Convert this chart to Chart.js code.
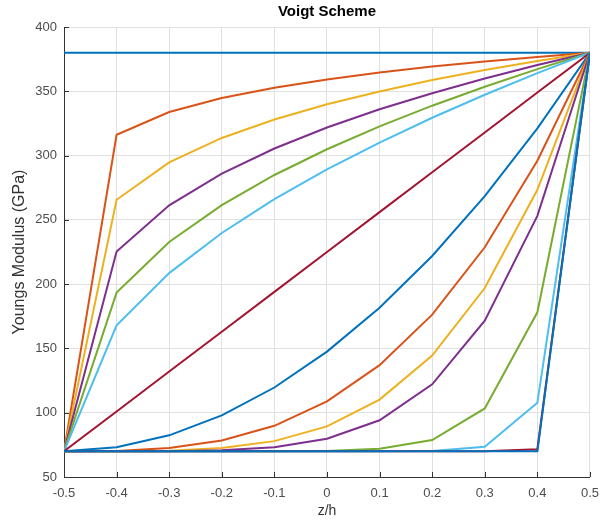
<!DOCTYPE html>
<html>
<head>
<meta charset="utf-8">
<script src="https://cdn.jsdelivr.net/npm/chart.js@4/dist/chart.umd.min.js"></script>
<style>
  body { margin: 0; background: #fff; }
  #wrap { width: 608px; height: 523px; }
</style>
</head>
<body>
<div id="wrap"><canvas id="voigtChart" width="608" height="523"></canvas></div>
<script>
// Voigt scheme, Youngs modulus through thickness, one line per exponent

const zh = [-0.5, -0.4, -0.3, -0.2, -0.1, 0, 0.1, 0.2, 0.3, 0.4, 0.5];

const eN0   = [380, 380, 380, 380, 380, 380, 380, 380, 380, 380, 380];
const eN01  = [70, 316.2, 333.9, 344.8, 352.8, 359.2, 364.6, 369.2, 373.1, 376.7, 380];
const eN02  = [70, 265.6, 294.7, 313.7, 328.1, 339.9, 349.9, 358.7, 366.5, 373.5, 380];
const eN03  = [70, 225.4, 261.3, 286.0, 305.5, 321.8, 336.0, 348.5, 359.9, 370.4, 380];
const eN04  = [70, 193.4, 232.8, 261.5, 284.9, 304.9, 322.7, 338.8, 353.5, 367.2, 380];
const eN05  = [70, 168.0, 208.6, 239.8, 266.1, 289.2, 310.1, 329.4, 347.3, 364.1, 380];
const eN1   = [70, 101, 132, 163, 194, 225, 256, 287, 318, 349, 380];
const eN2   = [70, 73.1, 82.4, 97.9, 119.6, 147.5, 181.6, 221.9, 268.4, 321.1, 380];
const eN3   = [70, 70.3, 72.5, 78.4, 89.8, 108.8, 137.0, 176.3, 228.7, 296.0, 380];
const eN4   = [70, 70.0, 70.5, 72.5, 77.9, 89.4, 110.2, 144.4, 197.0, 273.4, 380];
const eN5   = [70, 70.0, 70.1, 70.8, 73.2, 79.7, 94.1, 122.1, 171.6, 253.1, 380];
const eN10  = [70, 70, 70, 70, 70, 70.3, 71.9, 78.7, 103.3, 178.1, 380];
const eN20  = [70, 70, 70, 70, 70, 70, 70, 70.2, 73.6, 107.7, 380];
const eN50  = [70, 70, 70, 70, 70, 70, 70, 70, 70, 71.6, 380];
const eNinf = [70, 70, 70, 70, 70, 70, 70, 70, 70, 70, 380];

const series = [eN0, eN01, eN02, eN03, eN04, eN05, eN1, eN2, eN3, eN4, eN5, eN10, eN20, eN50, eNinf];

// matlab default colour order
const colors = ['#0072BD', '#D95319', '#EDB120', '#7E2F8E', '#77AC30', '#4DBEEE', '#A2142F'];

const yTicks = [50, 100, 150, 200, 250, 300, 350, 400];

const datasets = series.map((vals, i) => ({
    data: vals.map((v, j) => ({ x: zh[j], y: v })),
    borderColor: colors[i % colors.length],
    borderWidth: 2,
    pointRadius: 0,
    tension: 0,
    fill: false,
    order: series.length - i
}));

// small inward tick marks like matlab axes
const innerTicks = {
    id: 'innerTicks',
    afterDraw(chart) {
        const { ctx, chartArea, scales } = chart;
        ctx.save();
        ctx.strokeStyle = '#333';
        ctx.lineWidth = 1;
        ctx.beginPath();
        scales.x.ticks.forEach(t => {
            const px = Math.round(scales.x.getPixelForValue(t.value)) + 0.5;
            ctx.moveTo(px, chartArea.bottom);
            ctx.lineTo(px, chartArea.bottom - 5);
        });
        scales.y.ticks.forEach(t => {
            const py = Math.round(scales.y.getPixelForValue(t.value)) + 0.5;
            ctx.moveTo(chartArea.left, py);
            ctx.lineTo(chartArea.left + 5, py);
        });
        ctx.stroke();
        ctx.restore();
    }
};

// center the title over the plot box, not the whole canvas
const titleOverPlot = {
    id: 'titleOverPlot',
    afterLayout(chart) {
        const t = chart.titleBlock;
        if (!t) return;
        t.left = chart.chartArea.left;
        t.right = chart.chartArea.right;
        t.width = t.right - t.left;
    }
};

const font = { family: "'Liberation Sans', Arial, sans-serif", size: 13 };

new Chart(document.getElementById('voigtChart'), {
    type: 'line',
    data: { datasets: datasets },
    options: {
        responsive: false,
        animation: false,
        layout: { padding: { left: 0, right: 18, top: 0, bottom: 0 } },
        plugins: {
            legend: { display: false },
            tooltip: { enabled: false },
            title: {
                display: true,
                text: 'Voigt Scheme',
                color: '#000',
                font: { family: font.family, size: 15, weight: 'bold' },
                padding: { top: 3, bottom: 6 }
            }
        },
        scales: {
            x: {
                type: 'linear',
                min: -0.5,
                max: 0.5,
                afterBuildTicks: s => { s.ticks = zh.map(v => ({ value: v })); },
                afterFit: s => { s.height = 46; },
                ticks: {
                    color: '#4d4d4d',
                    font: font,
                    padding: 9,
                    maxRotation: 0,
                    callback: v => Math.abs(v) < 1e-9 ? '0' : v.toFixed(1)
                },
                grid: { color: '#e0e0e0', drawTicks: false },
                border: { color: '#333', width: 1 },
                title: { display: true, text: 'z/h', color: '#333', font: { family: font.family, size: 14 }, padding: { top: 2, bottom: 3 } }
            },
            y: {
                min: 50,
                max: 400,
                afterBuildTicks: s => { s.ticks = yTicks.map(v => ({ value: v })); },
                afterFit: s => { s.width = 64; },
                ticks: { color: '#4d4d4d', font: font, padding: 7 },
                grid: { color: '#e0e0e0', drawTicks: false },
                border: { color: '#333', width: 1 },
                title: { display: true, text: 'Youngs Modulus (GPa)', color: '#333', font: { family: font.family, size: 16 }, padding: { top: 10, bottom: 4 } }
            }
        }
    },
    plugins: [innerTicks, titleOverPlot]
});
</script>
</body>
</html>
